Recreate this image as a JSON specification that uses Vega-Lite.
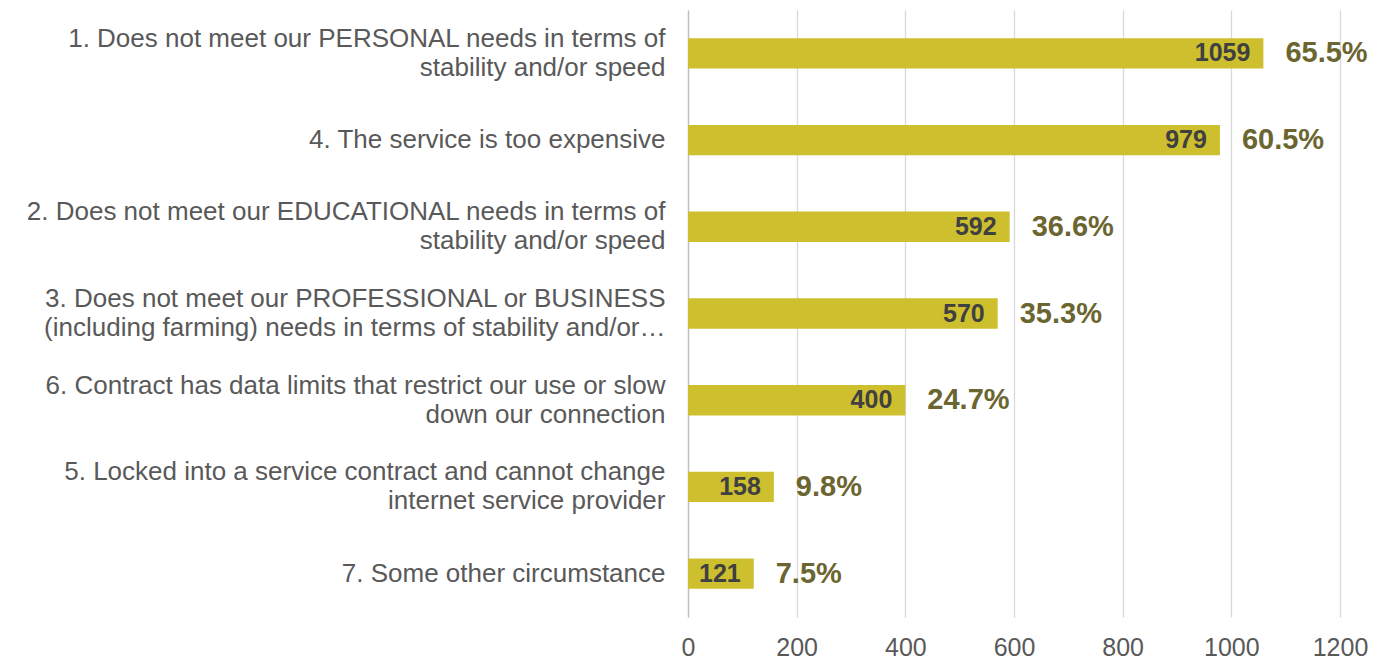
{
  "$schema": "https://vega.github.io/schema/vega-lite/v6.json",
  "autosize": "none",
  "width": 652,
  "height": 607,
  "padding": {"left": 688, "top": 10, "right": 43, "bottom": 45},
  "background": "white",
  "config": {"view": {"stroke": null}, "font": "Liberation Sans"},
  "data": {"values": [
    {"reason": "1. Does not meet our PERSONAL needs in terms of|stability and/or speed", "count": 1059, "pct": 0.655},
    {"reason": "4. The service is too expensive", "count": 979, "pct": 0.605},
    {"reason": "2. Does not meet our EDUCATIONAL needs in terms of|stability and/or speed", "count": 592, "pct": 0.366},
    {"reason": "3. Does not meet our PROFESSIONAL or BUSINESS|(including farming) needs in terms of stability and/or…", "count": 570, "pct": 0.353},
    {"reason": "6. Contract has data limits that restrict our use or slow|down our connection", "count": 400, "pct": 0.247},
    {"reason": "5. Locked into a service contract and cannot change|internet service provider", "count": 158, "pct": 0.098},
    {"reason": "7. Some other circumstance", "count": 121, "pct": 0.075}
  ]},
  "encoding": {
    "y": {
      "field": "reason", "type": "nominal", "sort": null,
      "scale": {"paddingInner": 0.65, "paddingOuter": 0.325},
      "axis": {
        "title": null, "ticks": false, "domain": true, "domainColor": "#BFBFBF", "domainWidth": 1.3,
        "labelExpr": "split(datum.label, '|')",
        "labelFont": "Liberation Sans", "labelFontSize": 26, "labelColor": "#595959",
        "labelPadding": 23, "labelLimit": 700, "labelLineHeight": 29, "grid": false,
        "labelOffset": {"condition": {"test": "indexof(datum.value, '|') >= 0", "value": -14.5}, "value": 0}
      }
    }
  },
  "layer": [
    {
      "mark": {"type": "bar", "color": "#CDBF2E"},
      "encoding": {
        "x": {
          "field": "count", "type": "quantitative",
          "scale": {"domain": [0, 1200], "nice": false},
          "axis": {
            "title": null, "values": [0, 200, 400, 600, 800, 1000, 1200], "format": "d", "labelFlush": false,
            "domain": false, "ticks": false, "grid": true, "gridColor": "#D9D9D9", "gridWidth": 1.3,
            "labelFont": "Liberation Sans", "labelFontSize": 25, "labelColor": "#595959", "labelPadding": 18
          }
        }
      }
    },
    {
      "mark": {"type": "text", "align": "right", "baseline": "middle", "dx": -13, "fontWeight": "bold", "fontSize": 25, "color": "#404040", "font": "Liberation Sans"},
      "encoding": {
        "x": {"field": "count", "type": "quantitative"},
        "text": {"field": "count", "type": "quantitative", "format": "d"}
      }
    },
    {
      "mark": {"type": "text", "align": "left", "baseline": "middle", "dx": 22, "fontWeight": "bold", "fontSize": 29, "color": "#6B6530", "font": "Liberation Sans"},
      "encoding": {
        "x": {"field": "count", "type": "quantitative"},
        "text": {"field": "pct", "type": "quantitative", "format": ".1%"}
      }
    }
  ]
}
